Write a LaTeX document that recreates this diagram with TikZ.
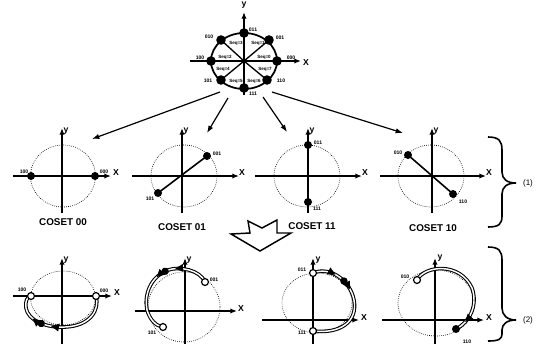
\documentclass[tikz,border=0pt]{standalone}
\usepackage{fontspec}
\setmainfont{Liberation Sans}
\usetikzlibrary{arrows.meta,decorations.markings}
\begin{document}
\begin{tikzpicture}[x=0.75pt,y=-0.75pt,
  axis/.style={line width=1.35pt,-{Latex[length=5pt,width=4pt]}},
  conn/.style={line width=0.9pt,-{Latex[length=5.5pt,width=4pt]}},
  circ/.style={densely dotted,line width=0.5pt},
  topcirc/.style={line width=1.3pt},
  spoke/.style={line width=1pt},
  bigdot/.style={circle,fill=black,inner sep=0pt,minimum size=7.2pt},
  cdot/.style={circle,fill=black,inner sep=0pt,minimum size=6pt},
  odot/.style={circle,draw=black,fill=white,line width=0.9pt,inner sep=0pt,minimum size=5.2pt},
  lbl/.style={font=\fontsize{3.8}{4}\selectfont\bfseries,inner sep=0.3pt},
  seq/.style={font=\fontsize{3.4}{4}\selectfont\bfseries,inner sep=0.2pt},
  axl/.style={font=\fontsize{6.5}{7}\selectfont\bfseries,inner sep=0.5pt},
  cosetl/.style={font=\fontsize{7.4}{8}\selectfont\bfseries,inner sep=0.5pt},
  trail/.style={line width=0.8pt,double=white,double distance=1.1pt},
  brc/.style={line width=1.2pt}
]
\useasboundingbox (0,0) rectangle (547,344);

% ---------------- top constellation ----------------
\coordinate (T) at (244,61);
\draw[topcirc] (T) ellipse [x radius=33, y radius=28];
\node[bigdot] (t000) at (277,61) {};
\node[bigdot] (t001) at (269,40) {};
\node[bigdot] (t011) at (244,33) {};
\node[bigdot] (t010) at (221,40) {};
\node[bigdot] (t100) at (211,61) {};
\node[bigdot] (t101) at (221,80) {};
\node[bigdot] (t111) at (244,88) {};
\node[bigdot] (t110) at (267,80) {};
\foreach \p in {t000,t001,t011,t010,t100,t101,t111,t110}
  \draw[spoke] (T) -- (\p.center);
\coordinate (tx0) at (190,61); \coordinate (tx1) at (301,61);
\coordinate (ty0) at (244,95); \coordinate (ty1) at (244,12);
\draw[axis] (tx0) -- (tx1);
\draw[axis] (ty0) -- (ty1);
\node[axl] (tyl) at (244,5) {y};
\node[axl] (txl) at (306,63) {X};
\node[lbl] (l011) at (253,30) {011};
\node[lbl] (l001) at (280,38) {001};
\node[lbl] (l010) at (209,37) {010};
\node[lbl] (l000) at (291,58) {000};
\node[lbl] (l100) at (200,58) {100};
\node[lbl] (l101) at (208,81) {101};
\node[lbl] (l110) at (281,81) {110};
\node[lbl] (l111) at (253,94) {111};
\node[seq] (s3) at (236,43) {Seq=3};
\node[seq] (s1) at (258,43) {Seq=1};
\node[seq] (s2) at (225,57) {Seq=2};
\node[seq] (s0) at (264,57) {Seq=0};
\node[seq] (s4) at (223,69) {Seq=4};
\node[seq] (s7) at (265,69) {Seq=7};
\node[seq] (s5) at (236,81) {Seq=5};
\node[seq] (s6) at (254,81) {Seq=6};

% arrows to the cosets
\coordinate (a1s) at (220,92); \coordinate (a1e) at (92,139);
\coordinate (a2s) at (228,98); \coordinate (a2e) at (207,133);
\coordinate (a3s) at (263,97); \coordinate (a3e) at (287,132);
\coordinate (a4s) at (272,92); \coordinate (a4e) at (403,133);
\draw[conn] (a1s) -- (a1e);
\draw[conn] (a2s) -- (a2e);
\draw[conn] (a3s) -- (a3e);
\draw[conn] (a4s) -- (a4e);

% ---------------- row 1 ----------------
% coset 00
\draw[circ] (63,176) ellipse [x radius=32.5, y radius=31];
\coordinate (c1x0) at (13,176); \coordinate (c1x1) at (111,176);
\coordinate (c1y0) at (62,213); \coordinate (c1y1) at (62,128);
\draw[axis] (c1x0) -- (c1x1); \draw[axis] (c1y0) -- (c1y1);
\node[axl] (c1yl) at (66,131) {y}; \node[axl] (c1xl) at (116,173) {X};
\node[cdot] (c1a) at (31,176) {}; \node[cdot] (c1b) at (95,176) {};
\node[lbl] (c1al) at (24,172) {100}; \node[lbl] (c1bl) at (104,172) {000};
\node[cosetl] (c1t) at (63,222) {COSET 00};

% coset 01
\draw[circ] (184,176) ellipse [x radius=33, y radius=31];
\coordinate (c2x0) at (132,176); \coordinate (c2x1) at (239,176);
\coordinate (c2y0) at (182,213); \coordinate (c2y1) at (182,128);
\draw[axis] (c2x0) -- (c2x1); \draw[axis] (c2y0) -- (c2y1);
\node[axl] (c2yl) at (186,131) {y}; \node[axl] (c2xl) at (242,173) {X};
\node[cdot] (c2a) at (207,156) {}; \node[cdot] (c2b) at (158,193) {};
\draw[line width=1.2pt] (c2b.center) -- (c2a.center);
\node[lbl] (c2al) at (217,154) {001}; \node[lbl] (c2bl) at (150,199) {101};
\node[cosetl] (c2t) at (182,227) {COSET 01};

% coset 11
\draw[circ] (307,176) ellipse [x radius=33, y radius=31];
\coordinate (c3x0) at (255,176); \coordinate (c3x1) at (362,176);
\coordinate (c3y0) at (308,213); \coordinate (c3y1) at (308,128);
\draw[axis] (c3x0) -- (c3x1); \draw[axis] (c3y0) -- (c3y1);
\node[axl] (c3yl) at (312,131) {y}; \node[axl] (c3xl) at (365,173) {X};
\node[cdot] (c3a) at (308,145) {}; \node[cdot] (c3b) at (308,202) {};
\draw[line width=1.5pt] (c3a.center) -- (c3b.center);
\node[lbl] (c3al) at (318,143) {011}; \node[lbl] (c3bl) at (317,209) {111};
\node[cosetl] (c3t) at (312,226) {COSET 11};

% coset 10
\draw[circ] (431,176) ellipse [x radius=33, y radius=31];
\coordinate (c4x0) at (380,176); \coordinate (c4x1) at (486,176);
\coordinate (c4y0) at (432,213); \coordinate (c4y1) at (432,128);
\draw[axis] (c4x0) -- (c4x1); \draw[axis] (c4y0) -- (c4y1);
\node[axl] (c4yl) at (436,131) {y}; \node[axl] (c4xl) at (489,173) {X};
\node[cdot] (c4a) at (408,155) {}; \node[cdot] (c4b) at (453,194) {};
\draw[line width=1.2pt] (c4a.center) -- (c4b.center);
\node[lbl] (c4al) at (398,153) {010}; \node[lbl] (c4bl) at (463,202) {110};
\node[cosetl] (c4t) at (433,228) {COSET 10};

% brace (1)
\draw[brc] (488,137) .. controls (499,137) and (502,141) .. (502,150)
  -- (502,172) .. controls (502,179) and (507,183) .. (516,183)
  .. controls (507,183) and (502,187) .. (502,194)
  -- (502,216) .. controls (502,224) and (499,227) .. (488,227);
\node[axl,font=\fontsize{6}{7}\selectfont] (b1l) at (528,183) {(1)};

% hollow arrow
\draw[line width=1.1pt,fill=white] (248,221) -- (262,228) -- (277,220) -- (277,233)
  -- (291,233) -- (260,251) -- (231,234) -- (250,233) -- cycle;

% ---------------- row 2 ----------------
% B1
\draw[circ] (63,298) ellipse [x radius=32.5, y radius=27];
\coordinate (d1x0) at (13,296); \coordinate (d1x1) at (112,296);
\coordinate (d1y0) at (62,344); \coordinate (d1y1) at (62,258);
\draw[axis] (d1x0) -- (d1x1); \draw[axis] (d1y0) -- (d1y1);
\node[axl] (d1yl) at (66,260) {y}; \node[axl] (d1xl) at (117,293) {X};
\draw[trail,postaction={decorate,decoration={markings,
   mark=at position 0.58 with {\arrow{Triangle[length=6pt,width=5.5pt]}},
   mark=at position 0.67 with {\fill[black] (0,0) circle (2.8pt);},
   mark=at position 0.76 with {\arrow{Triangle[length=6pt,width=5.5pt]}}}}]
  (96,296) .. controls (100,310) and (90,326) .. (65,327)
  .. controls (45,328) and (28,320) .. (26,308)
  .. controls (25,301) and (27,297) .. (31,296);
\node[odot] (d1a) at (31,296) {}; \node[odot] (d1b) at (96,296) {};
\node[lbl] (d1al) at (22,290) {100}; \node[lbl] (d1bl) at (104,291) {000};

% B2
\draw[circ] (184,307) ellipse [x radius=36, y radius=35];
\coordinate (d2x0) at (135,311); \coordinate (d2x1) at (237,311);
\coordinate (d2y0) at (185,344); \coordinate (d2y1) at (185,258);
\draw[axis] (d2x0) -- (d2x1); \draw[axis] (d2y0) -- (d2y1);
\node[axl] (d2yl) at (189,260) {y}; \node[axl] (d2xl) at (241,309) {X};
\draw[trail,postaction={decorate,decoration={markings,
   mark=at position 0.3 with {\arrow{Triangle[length=6pt,width=5.5pt]}},
   mark=at position 0.39 with {\fill[black] (0,0) circle (2.8pt);},
   mark=at position 0.48 with {\arrow{Triangle[length=6pt,width=5.5pt]}}}}]
  (205,282) .. controls (200,270) and (180,266) .. (168,270)
  .. controls (150,277) and (144,295) .. (147,310)
  .. controls (150,320) and (156,326) .. (163,327);
\node[odot] (d2a) at (205,282) {}; \node[odot] (d2b) at (163,327) {};
\node[lbl] (d2al) at (214,280) {001}; \node[lbl] (d2bl) at (152,333) {101};

% B3
\draw[circ] (317,303) ellipse [x radius=35, y radius=30];
\coordinate (d3x0) at (262,320); \coordinate (d3x1) at (359,320);
\coordinate (d3y0) at (313,344); \coordinate (d3y1) at (313,258);
\draw[axis] (d3x0) -- (d3x1); \draw[axis] (d3y0) -- (d3y1);
\node[axl] (d3yl) at (318,260) {y}; \node[axl] (d3xl) at (364,318) {X};
\draw[trail,postaction={decorate,decoration={markings,
   mark=at position 0.2 with {\arrow{Triangle[length=6pt,width=5.5pt]}},
   mark=at position 0.29 with {\fill[black] (0,0) circle (2.8pt);},
   mark=at position 0.38 with {\arrow{Triangle[length=6pt,width=5.5pt]}}}}]
  (313,273) .. controls (330,266) and (350,280) .. (354,300)
  .. controls (358,322) and (340,334) .. (313,331);
\node[odot] (d3a) at (313,273) {}; \node[odot] (d3b) at (313,331) {};
\node[lbl] (d3al) at (302,270) {011}; \node[lbl] (d3bl) at (302,333) {111};

% B4
\draw[circ] (436,303) ellipse [x radius=38, y radius=33];
\coordinate (d4x0) at (382,320); \coordinate (d4x1) at (484,320);
\coordinate (d4y0) at (435,344); \coordinate (d4y1) at (435,258);
\draw[axis] (d4x0) -- (d4x1); \draw[axis] (d4y0) -- (d4y1);
\node[axl] (d4yl) at (440,258) {y}; \node[axl] (d4xl) at (489,318) {X};
\draw[trail,postaction={decorate,decoration={markings,
   mark=at position 0.9 with {\arrow{Triangle[length=6pt,width=5.5pt]}}}}]
  (417,280) .. controls (425,265) and (460,262) .. (472,288)
  .. controls (478,305) and (470,322) .. (456,329);
\node[odot] (d4a) at (417,280) {}; \node[cdot] (d4b) at (456,329) {};
\node[lbl] (d4al) at (405,277) {010}; \node[lbl] (d4bl) at (467,342) {110};

% brace (2)
\draw[brc] (488,247) .. controls (499,247) and (502,251) .. (502,260)
  -- (502,308) .. controls (502,315) and (507,320) .. (516,320)
  .. controls (507,320) and (502,324) .. (502,330)
  -- (502,334) .. controls (502,339) and (499,341) .. (488,341);
\node[axl,font=\fontsize{6}{7}\selectfont] (b2l) at (528,320) {(2)};
\end{tikzpicture}
\end{document}
